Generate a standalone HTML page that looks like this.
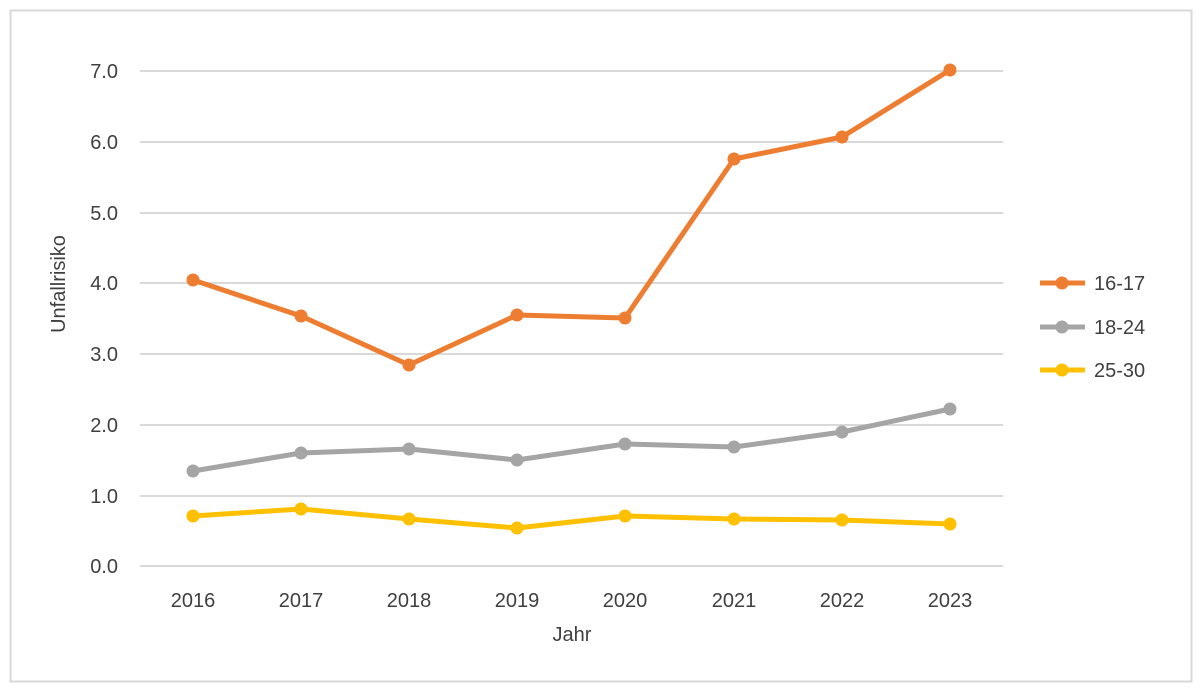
<!DOCTYPE html>
<html><head><meta charset="utf-8"><style>
body{margin:0;background:#fff;}
svg{display:block;font-family:"Liberation Sans",Arial,sans-serif;}
</style></head><body>
<svg width="1204" height="692" viewBox="0 0 1204 692">
<rect x="0" y="0" width="1204" height="692" fill="#fff"/>
<rect x="10.5" y="10.5" width="1181" height="671" fill="none" stroke="#d9d9d9" stroke-width="2"/>
<g stroke="#d9d9d9" stroke-width="2">
<line x1="140" x2="1003" y1="71" y2="71"/>
<line x1="140" x2="1003" y1="142" y2="142"/>
<line x1="140" x2="1003" y1="213" y2="213"/>
<line x1="140" x2="1003" y1="283" y2="283"/>
<line x1="140" x2="1003" y1="354" y2="354"/>
<line x1="140" x2="1003" y1="425" y2="425"/>
<line x1="140" x2="1003" y1="496" y2="496"/>
<line x1="140" x2="1003" y1="566" y2="566"/>
</g>
<g font-size="20" fill="#404040" text-anchor="end">
<text x="118" y="78">7.0</text>
<text x="118" y="149">6.0</text>
<text x="118" y="220">5.0</text>
<text x="118" y="290">4.0</text>
<text x="118" y="361">3.0</text>
<text x="118" y="432">2.0</text>
<text x="118" y="503">1.0</text>
<text x="118" y="573">0.0</text>
</g>
<g font-size="20" fill="#404040" text-anchor="middle">
<text x="193" y="607">2016</text>
<text x="301" y="607">2017</text>
<text x="409" y="607">2018</text>
<text x="517" y="607">2019</text>
<text x="625" y="607">2020</text>
<text x="734" y="607">2021</text>
<text x="842" y="607">2022</text>
<text x="950" y="607">2023</text>
<text x="572" y="641">Jahr</text>
</g>
<text font-size="20" fill="#404040" text-anchor="middle" transform="translate(65,284) rotate(-90)">Unfallrisiko</text>
<g fill="none" stroke-width="5" stroke-linejoin="round">
<polyline stroke="#ED7D31" points="193,280 301,316 409,365 517,315 625,318 734,159 842,137 950,70"/>
<polyline stroke="#A5A5A5" points="193,471 301,453 409,449 517,460 625,444 734,447 842,432 950,409"/>
<polyline stroke="#FFC000" points="193,516 301,509 409,519 517,528 625,516 734,519 842,520 950,524"/>
</g>
<g fill="#ED7D31"><circle cx="193" cy="280" r="6.5"/><circle cx="301" cy="316" r="6.5"/><circle cx="409" cy="365" r="6.5"/><circle cx="517" cy="315" r="6.5"/><circle cx="625" cy="318" r="6.5"/><circle cx="734" cy="159" r="6.5"/><circle cx="842" cy="137" r="6.5"/><circle cx="950" cy="70" r="6.5"/></g>
<g fill="#A5A5A5"><circle cx="193" cy="471" r="6.5"/><circle cx="301" cy="453" r="6.5"/><circle cx="409" cy="449" r="6.5"/><circle cx="517" cy="460" r="6.5"/><circle cx="625" cy="444" r="6.5"/><circle cx="734" cy="447" r="6.5"/><circle cx="842" cy="432" r="6.5"/><circle cx="950" cy="409" r="6.5"/></g>
<g fill="#FFC000"><circle cx="193" cy="516" r="6.5"/><circle cx="301" cy="509" r="6.5"/><circle cx="409" cy="519" r="6.5"/><circle cx="517" cy="528" r="6.5"/><circle cx="625" cy="516" r="6.5"/><circle cx="734" cy="519" r="6.5"/><circle cx="842" cy="520" r="6.5"/><circle cx="950" cy="524" r="6.5"/></g>
<g stroke-width="5">
<line x1="1040" x2="1085" y1="283" y2="283" stroke="#ED7D31"/>
<line x1="1040" x2="1085" y1="327" y2="327" stroke="#A5A5A5"/>
<line x1="1040" x2="1085" y1="370" y2="370" stroke="#FFC000"/>
</g>
<circle cx="1062" cy="283" r="6.5" fill="#ED7D31"/>
<circle cx="1062" cy="327" r="6.5" fill="#A5A5A5"/>
<circle cx="1062" cy="370" r="6.5" fill="#FFC000"/>
<g font-size="20" fill="#404040">
<text x="1094" y="290">16-17</text>
<text x="1094" y="334">18-24</text>
<text x="1094" y="377">25-30</text>
</g>
</svg>
</body></html>
